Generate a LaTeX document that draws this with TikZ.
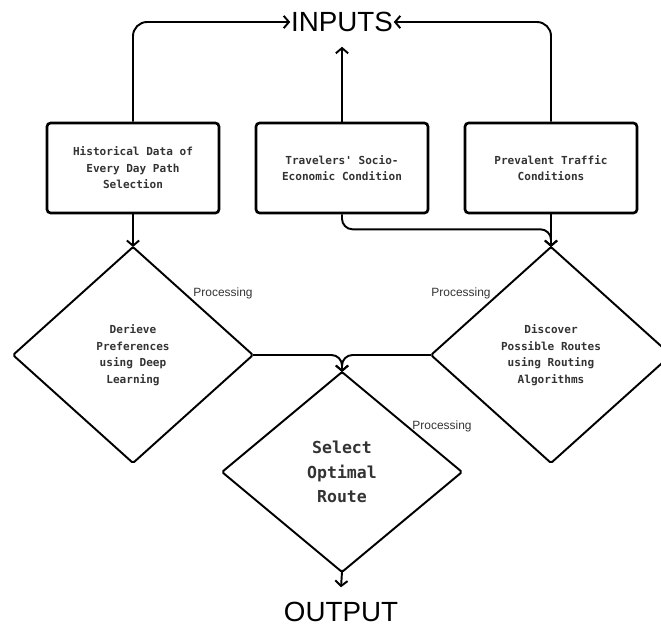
\documentclass[tikz,border=0pt]{standalone}
\usepackage{fontspec}
\setmainfont{Liberation Sans}
\setmonofont{DejaVu Sans Mono}
\usetikzlibrary{shapes.geometric,arrows.meta}

\begin{document}
\begin{tikzpicture}[x = 0.02cm, y = -0.02cm,
    line width = 1.1pt, >={Straight Barb[length=3pt,width=7pt]},
    io/.style = {inner xsep = 0.5pt, inner ysep = 8.5pt, outer sep = 0pt,
      font = \fontsize{15.8}{18}\selectfont},
    inbox/.style = {draw, line width = 1.5pt, rounded corners = 2pt,
      minimum width = 3.44cm, minimum height = 1.8cm, align = center,
      text = black!80, font = \ttfamily\bfseries\fontsize{6.3}{9.4}\selectfont},
    step box/.style = {draw, diamond, rounded corners = 1pt, outer sep = 0pt,
      minimum width = 4.8cm, minimum height = 4.32cm, align = center,
      text = black!80, font = \ttfamily\bfseries\fontsize{6.3}{9.5}\selectfont},
    proc/.style = {text = black!80, inner sep = 0pt,
      font = \fontsize{6.8}{8}\selectfont}]
      \useasboundingbox (0, 0) rectangle (661, 626);
      % inputs and output
      \node [io] (inputs) at (342, 22) {INPUTS};
      \node [io] (output) at (341, 612) {OUTPUT};
      % input boxes
      \node [inbox] (hist) at (133, 168) {Historical Data of\\Every Day Path\\Selection};
      \node [inbox] (socio) at (342, 168) {Travelers' Socio-\\Economic Condition};
      \node [inbox] (traffic) at (551, 168) {Prevalent Traffic\\Conditions};
      % processing steps
      \node [step box] (derive) at (133, 355) {Derieve\\Preferences\\using Deep\\Learning};
      \node [step box] (discover) at (551, 355) {Discover\\Possible Routes\\using Routing\\Algorithms};
      \node [step box, minimum height = 4cm,
        font = \ttfamily\bfseries\fontsize{9.4}{14}\selectfont] (select) at (342, 472) {Select\\Optimal\\Route};
      \node [proc] at (223, 293) {Processing};
      \node [proc] at (461, 293) {Processing};
      \node [proc] at (442, 426) {Processing};
      % connectors
      \draw [->, rounded corners = 8pt] (hist.north) |- (inputs.west);
      \draw [->, rounded corners = 8pt] (traffic.north) |- (inputs.east);
      \draw [->] (socio.north) -- (inputs.south);
      \draw [->] (hist.south) -- (derive.north);
      \draw [->] (traffic.south) -- (discover.north);
      \draw [->, rounded corners = 6pt] (socio.south) -- ++(0, 15) -| (discover.north);
      \draw [->, rounded corners = 6pt] (derive.east) -| (select.north);
      \draw [->, rounded corners = 6pt] (discover.west) -| (select.north);
      \draw [->] (select.south) -- (output.north);
    \end{tikzpicture}
\end{document}
